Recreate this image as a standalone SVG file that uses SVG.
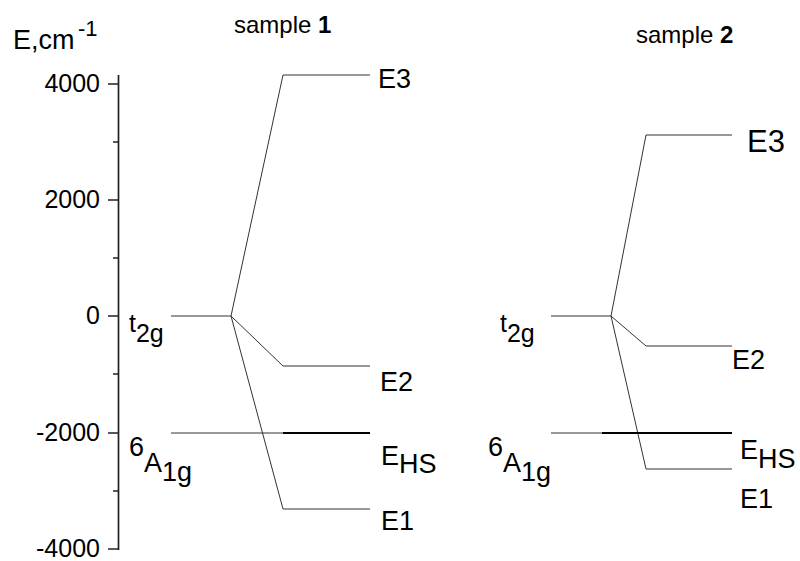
<svg xmlns="http://www.w3.org/2000/svg" width="800" height="561" viewBox="0 0 800 561">
  <style>
    text { font-family: "Liberation Sans", Arial, sans-serif; fill: #000; }
    .tick { font-size: 25px; text-anchor: end; }
    .lbl { font-size: 27px; }
    .term { font-size: 25px; }
    .term-a { font-size: 27px; }
    .ttl { font-size: 24px; }
    .axis { stroke: #222; stroke-width: 1.7; fill: none; }
    .lvl { stroke: #333; stroke-width: 1; fill: none; }
    .lvl-b { stroke: #000; stroke-width: 2; fill: none; }
  </style>
  <rect width="800" height="561" fill="#fff"/>

  <!-- energy axis -->
  <g id="axis">
    <path class="axis" d="M118.5 75 V550 M108 84 H118.5 M108 200 H118.5 M108 316 H118.5 M108 433 H118.5 M108 549 H118.5 M113 142 H118.5 M113 258 H118.5 M113 374 H118.5 M113 491 H118.5"/>
    <text class="tick" x="100" y="92">4000</text>
    <text class="tick" x="100" y="208">2000</text>
    <text class="tick" x="100" y="324">0</text>
    <text class="tick" x="100" y="441">-2000</text>
    <text class="tick" x="100" y="557">-4000</text>
    <text x="13" y="49" font-size="27">E,cm<tspan x="78" y="36" font-size="22">-1</tspan></text>
  </g>

  <!-- sample 1 levels -->
  <g id="sample1">
    <text class="ttl" x="234" y="33">sample <tspan font-weight="bold">1</tspan></text>
    <g id="s1-t2g">
      <text class="term" x="129" y="332">t<tspan dy="10">2g</tspan></text>
    </g>
    <g id="s1-a1g">
      <text class="term-a" x="129" y="456">6<tspan dy="16">A</tspan><tspan dy="9">1g</tspan></text>
    </g>
    <g id="s1-e3"><text class="lbl" x="378" y="88">E3</text></g>
    <g id="s1-e2"><text class="lbl" x="380" y="391">E2</text></g>
    <g id="s1-ehs"><text class="lbl" x="381" y="465">E<tspan dy="8">HS</tspan></text></g>
    <g id="s1-e1"><text class="lbl" x="381" y="530">E1</text></g>
  </g>

  <!-- sample 2 levels -->
  <g id="sample2">
    <text class="ttl" x="636" y="43">sample <tspan font-weight="bold">2</tspan></text>
    <g id="s2-t2g">
      <text class="term" x="500" y="332">t<tspan dy="10">2g</tspan></text>
    </g>
    <g id="s2-a1g">
      <text class="term-a" x="488" y="456">6<tspan dy="16">A</tspan><tspan dy="9">1g</tspan></text>
    </g>
    <g id="s2-e3"><text x="747" y="152" font-size="31">E3</text></g>
    <g id="s2-e2"><text class="lbl" x="732" y="369">E2</text></g>
    <g id="s2-ehs"><text class="lbl" x="740" y="459">E<tspan dy="9">HS</tspan></text></g>
    <g id="s2-e1"><text class="lbl" x="740" y="508">E1</text></g>
  </g>

  <!-- splitting lines -->
  <g id="connectors">
    <path class="lvl" d="M171 316 H231 L283 75 H370 M231 316 L283 366 H370 M231 316 L283 509 H370 M171 433 H283"/>
    <path class="lvl-b" d="M283 433 H370"/>
    <path class="lvl" d="M551 316 H611 L646 135 H732 M611 316 L646 346 H732 M611 316 L646 469 H732 M551 433 H602"/>
    <path class="lvl-b" d="M602 433 H732"/>
  </g>
</svg>
